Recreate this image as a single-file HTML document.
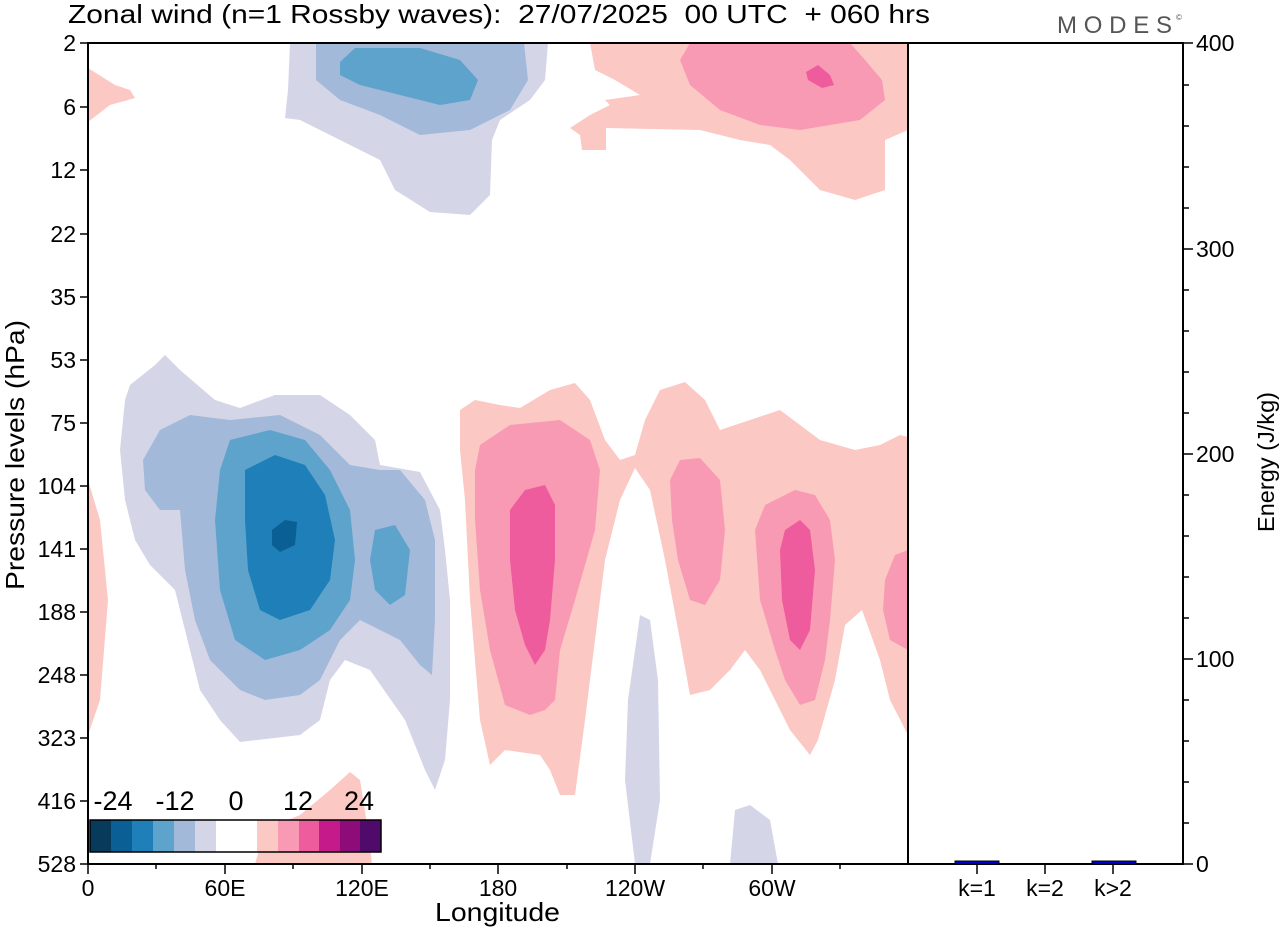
<!DOCTYPE html>
<html><head><meta charset="utf-8"><style>
body{margin:0;background:#fff;}
svg text{font-family:"Liberation Sans",Arial,sans-serif;fill:#000;white-space:pre;}
</style></head><body>
<svg width="1280" height="930" viewBox="0 0 1280 930" xmlns="http://www.w3.org/2000/svg" xml:space="preserve">
<rect width="1280" height="930" fill="#fff"/>
<defs><clipPath id="c"><rect x="88" y="43" width="820" height="821"/></clipPath></defs>
<g clip-path="url(#c)" stroke="none" stroke-linejoin="round">
<path fill="#d5d5e8" d="M290,43 L288,90 285,118 300,120 340,140 380,160 395,190 430,212 470,215 490,195 492,140 500,120 530,100 545,80 548,43Z"/>
<path fill="#a2b9d9" d="M316,43 L316,80 340,100 380,115 420,135 470,130 510,110 528,80 524,43Z"/>
<path fill="#5ea3cc" d="M340,62 L355,48 420,48 460,60 478,80 470,100 440,105 400,95 360,85 340,75Z"/>
<path fill="#fbc8c4" d="M590,43 L908,43 908,130 885,140 885,190 855,200 820,190 790,160 770,145 740,140 700,130 606,128 606,150 582,150 580,135 570,128 590,115 610,105 605,100 640,95 615,80 595,70Z"/>
<path fill="#f99ab4" d="M690,43 L850,43 865,60 882,80 885,100 860,120 800,130 760,125 720,110 690,85 680,60Z"/>
<path fill="#ef5c9d" d="M806,72 L818,65 830,75 834,85 822,88 808,80Z"/>
<path fill="#fbc8c4" d="M88,68 L115,85 130,90 135,98 110,105 88,122Z"/>
<path fill="#fbc8c4" d="M88,480 L100,520 108,600 100,700 88,735Z"/>
<path fill="#d5d5e8" d="M125,400 L130,385 155,365 165,355 180,370 215,400 240,408 275,395 320,395 350,415 375,440 380,465 420,472 440,510 445,550 450,600 450,700 445,760 435,790 425,770 405,720 370,670 345,660 330,680 320,720 300,735 240,742 220,720 200,690 185,630 175,590 150,565 135,540 125,500 120,450Z"/>
<path fill="#a2b9d9" d="M143,460 L160,430 190,415 230,420 280,415 320,435 350,465 380,470 400,470 425,500 435,540 435,620 432,675 420,665 400,640 360,620 340,640 320,680 300,695 265,700 240,690 210,660 195,620 185,570 180,510 160,510 145,490Z"/>
<path fill="#5ea3cc" d="M220,470 L230,440 270,430 305,440 330,470 350,510 355,560 350,600 330,630 300,650 265,660 235,640 220,590 215,520Z"/>
<path fill="#5ea3cc" d="M375,530 L395,525 410,550 405,595 390,605 375,590 370,560Z"/>
<path fill="#1f7fb8" d="M245,470 L275,455 305,465 325,495 335,540 330,580 310,610 280,620 260,610 248,570 245,520Z"/>
<path fill="#0a5f94" d="M272,530 L285,520 297,522 295,545 280,552 272,545Z"/>
<path fill="#d5d5e8" d="M640,615 L650,620 658,680 660,800 650,864 635,864 625,780 628,700Z"/>
<path fill="#d5d5e8" d="M730,864 L735,810 750,805 770,820 778,864Z"/>
<path fill="#fbc8c4" d="M460,410 L475,400 500,405 520,408 550,390 575,383 590,400 605,440 620,460 635,455 645,420 660,390 685,382 705,400 720,430 750,420 780,410 820,440 855,450 880,445 900,435 908,437 908,735 890,700 880,660 862,610 845,625 835,680 818,740 810,755 790,730 770,690 760,670 745,650 730,670 710,690 690,695 680,640 665,560 650,490 635,468 620,500 605,560 595,640 585,720 575,795 560,795 550,770 540,755 505,750 490,765 480,720 470,600 465,500 460,450Z"/>
<path fill="#fbc8c4" d="M255,864 L265,830 300,815 330,790 350,772 360,780 368,830 372,864Z"/>
<path fill="#f99ab4" d="M475,470 L480,445 510,425 560,420 590,440 600,470 595,530 575,600 560,650 555,700 545,710 530,715 505,705 490,650 480,590 475,520Z"/>
<path fill="#f99ab4" d="M670,480 L680,460 700,458 720,480 725,530 720,580 705,605 690,600 678,560 672,520Z"/>
<path fill="#f99ab4" d="M755,530 L765,505 795,490 815,495 830,520 835,560 830,620 825,660 815,700 800,705 785,680 775,650 760,600Z"/>
<path fill="#f99ab4" d="M885,580 L895,555 908,550 908,650 890,640 883,610Z"/>
<path fill="#ef5c9d" d="M510,510 L525,490 545,485 555,505 555,560 550,620 545,650 535,665 525,645 515,610 510,560Z"/>
<path fill="#ef5c9d" d="M780,550 L785,530 800,520 810,530 815,570 810,630 800,650 790,640 782,600Z"/>
</g>
<g stroke="none">
<rect x="90" y="820" width="21" height="32" fill="#083a5c"/>
<rect x="111" y="820" width="21" height="32" fill="#0a5f94"/>
<rect x="132" y="820" width="21" height="32" fill="#1f7fb8"/>
<rect x="153" y="820" width="21" height="32" fill="#5ea3cc"/>
<rect x="174" y="820" width="21" height="32" fill="#a2b9d9"/>
<rect x="195" y="820" width="21" height="32" fill="#d5d5e8"/>
<rect x="216" y="820" width="41" height="32" fill="#fff"/>
<rect x="257" y="820" width="21" height="32" fill="#fbc8c4"/>
<rect x="278" y="820" width="21" height="32" fill="#f99ab4"/>
<rect x="299" y="820" width="20" height="32" fill="#ef5c9d"/>
<rect x="319" y="820" width="21" height="32" fill="#c51b8a"/>
<rect x="340" y="820" width="20" height="32" fill="#8e0c7a"/>
<rect x="360" y="820" width="21" height="32" fill="#4f0a6a"/>
</g>
<rect x="90" y="820" width="291" height="32" fill="none" stroke="#000" stroke-width="1.5"/>
<g font-size="27" text-anchor="middle">
<text x="113" y="810">-24</text><text x="175" y="810">-12</text><text x="236" y="810">0</text><text x="298" y="810">12</text><text x="359" y="810">24</text>
</g>
<rect x="88" y="43" width="1095" height="821" fill="none" stroke="#000" stroke-width="2"/>
<line x1="908" y1="43" x2="908" y2="864" stroke="#000" stroke-width="2"/>
<g stroke="#000" stroke-width="1.5">
<line x1="80" y1="43" x2="88" y2="43"/><line x1="80" y1="107" x2="88" y2="107"/><line x1="80" y1="170" x2="88" y2="170"/><line x1="80" y1="234" x2="88" y2="234"/><line x1="80" y1="297" x2="88" y2="297"/><line x1="80" y1="360" x2="88" y2="360"/><line x1="80" y1="423" x2="88" y2="423"/><line x1="80" y1="486" x2="88" y2="486"/><line x1="80" y1="549" x2="88" y2="549"/><line x1="80" y1="612" x2="88" y2="612"/><line x1="80" y1="675" x2="88" y2="675"/><line x1="80" y1="738" x2="88" y2="738"/><line x1="80" y1="801" x2="88" y2="801"/><line x1="80" y1="864" x2="88" y2="864"/>
<line x1="88" y1="864" x2="88" y2="874"/><line x1="156" y1="864" x2="156" y2="869"/><line x1="225" y1="864" x2="225" y2="874"/><line x1="293" y1="864" x2="293" y2="869"/><line x1="362" y1="864" x2="362" y2="874"/><line x1="430" y1="864" x2="430" y2="869"/><line x1="498" y1="864" x2="498" y2="874"/><line x1="567" y1="864" x2="567" y2="869"/><line x1="635" y1="864" x2="635" y2="874"/><line x1="703" y1="864" x2="703" y2="869"/><line x1="772" y1="864" x2="772" y2="874"/><line x1="840" y1="864" x2="840" y2="869"/>
<line x1="977" y1="864" x2="977" y2="874"/><line x1="1045" y1="864" x2="1045" y2="874"/><line x1="1113" y1="864" x2="1113" y2="874"/>
<line x1="1183" y1="864" x2="1193" y2="864"/><line x1="1183" y1="659" x2="1193" y2="659"/><line x1="1183" y1="454" x2="1193" y2="454"/><line x1="1183" y1="249" x2="1193" y2="249"/><line x1="1183" y1="43" x2="1193" y2="43"/>
<line x1="1183" y1="823" x2="1189" y2="823"/><line x1="1183" y1="782" x2="1189" y2="782"/><line x1="1183" y1="741" x2="1189" y2="741"/><line x1="1183" y1="700" x2="1189" y2="700"/>
<line x1="1183" y1="618" x2="1189" y2="618"/><line x1="1183" y1="577" x2="1189" y2="577"/><line x1="1183" y1="536" x2="1189" y2="536"/><line x1="1183" y1="495" x2="1189" y2="495"/>
<line x1="1183" y1="413" x2="1189" y2="413"/><line x1="1183" y1="372" x2="1189" y2="372"/><line x1="1183" y1="331" x2="1189" y2="331"/><line x1="1183" y1="290" x2="1189" y2="290"/>
<line x1="1183" y1="208" x2="1189" y2="208"/><line x1="1183" y1="167" x2="1189" y2="167"/><line x1="1183" y1="126" x2="1189" y2="126"/><line x1="1183" y1="85" x2="1189" y2="85"/>
</g>
<rect x="955" y="861" width="44" height="3" fill="#0000cc" stroke="#000" stroke-width="1"/>
<rect x="1023" y="863" width="44" height="1" fill="#000"/>
<rect x="1092" y="861" width="44" height="3" fill="#0000cc" stroke="#000" stroke-width="1"/>
<g font-size="23" text-anchor="end">
<text x="76" y="51">2</text><text x="76" y="115">6</text><text x="76" y="178">12</text><text x="76" y="242">22</text><text x="76" y="305">35</text><text x="76" y="368">53</text><text x="76" y="431">75</text><text x="76" y="494">104</text><text x="76" y="557">141</text><text x="76" y="620">188</text><text x="76" y="683">248</text><text x="76" y="746">323</text><text x="76" y="809">416</text><text x="76" y="872">528</text>
</g>
<g font-size="23" text-anchor="middle">
<text x="88" y="896">0</text><text x="225" y="896">60E</text><text x="362" y="896">120E</text><text x="498" y="896">180</text><text x="635" y="896">120W</text><text x="772" y="896">60W</text>
<text x="977" y="896">k=1</text><text x="1045" y="896">k=2</text><text x="1113" y="896">k&gt;2</text>
</g>
<text x="435" y="921" font-size="26" textLength="125" lengthAdjust="spacingAndGlyphs">Longitude</text>
<g font-size="23">
<text x="1196" y="872">0</text><text x="1196" y="667">100</text><text x="1196" y="462">200</text><text x="1196" y="257">300</text><text x="1196" y="51">400</text>
</g>
<text font-size="26" transform="translate(24,590) rotate(-90)" textLength="270" lengthAdjust="spacingAndGlyphs">Pressure levels (hPa)</text>
<text font-size="23" transform="translate(1274,532) rotate(-90)" textLength="140" lengthAdjust="spacingAndGlyphs">Energy (J/kg)</text>
<text x="68" y="23" font-size="26" textLength="862" lengthAdjust="spacingAndGlyphs">Zonal wind (n=1 Rossby waves):  27/07/2025  00 UTC  + 060 hrs</text>
<text x="1057" y="33" font-size="24" style="fill:#555" textLength="115" lengthAdjust="spacing">MODES</text>
<text x="1176" y="20" font-size="8" style="fill:#555">©</text>
</svg>
</body></html>
